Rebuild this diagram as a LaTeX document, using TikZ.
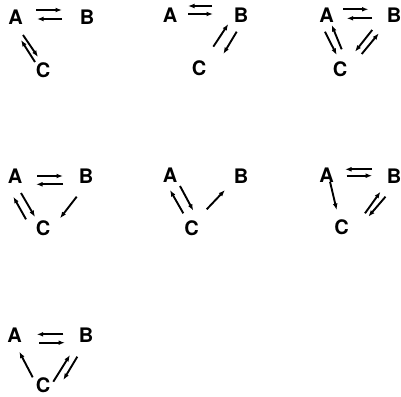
\documentclass[tikz,border=0pt]{standalone}
\usepackage{fontspec}
\setmainfont{TeX Gyre Heros}
\usetikzlibrary{arrows.meta}
\tikzset{
  lbl/.style={inner sep=0pt, font=\fontsize{20}{24}\selectfont\bfseries},
  arr/.style={line width=1.9pt, -{Latex[length=6.5pt,width=4.8pt]}},
}
\newcommand\cn[4]{\draw[arr] ([shift={#2}]#1.center) -- ([shift={#4}]#3.center);}
\begin{document}
\begin{tikzpicture}[x=1pt,y=-1pt]
\useasboundingbox (0,0) rectangle (401,396);
% Panel 1
\node[lbl] (A1) at (15.5,17.5) {A};
\node[lbl] (B1) at (87,17.5) {B};
\node[lbl] (C1) at (43,70) {C};
\cn{A1}{(20.5,-7.5)}{B1}{(-25,-7.5)}
\cn{B1}{(-25,1.5)}{A1}{(21.5,1.5)}
\cn{A1}{(7.5,17.5)}{C1}{(-5,-13)}
\cn{C1}{(-8,-8)}{A1}{(5.5,22.5)}
% Panel 2
\node[lbl] (A2) at (170,15.5) {A};
\node[lbl] (B2) at (241,15.5) {B};
\node[lbl] (C2) at (199,68) {C};
\cn{B2}{(-29,-9.5)}{A2}{(18,-9.5)}
\cn{A2}{(18,-1.5)}{B2}{(-28,-1.5)}
\cn{C2}{(14.3,-21.3)}{B2}{(-12.7,8.5)}
\cn{B2}{(-4.3,16.2)}{C2}{(24.3,-14)}
% Panel 3
\node[lbl] (A3) at (326.7,15) {A};
\node[lbl] (B3) at (394,15) {B};
\node[lbl] (C3) at (340,69) {C};
\cn{A3}{(16.3,-5.7)}{B3}{(-25.5,-5.7)}
\cn{B3}{(-21.8,3.3)}{A3}{(20,3.3)}
\cn{A3}{(-1.7,16.7)}{C3}{(-3.3,-14)}
\cn{C3}{(1.7,-19.7)}{A3}{(5,10)}
\cn{B3}{(-21.8,15)}{C3}{(15,-17.3)}
\cn{C3}{(21.7,-15)}{B3}{(-15.2,18.3)}
% Panel 4
\node[lbl] (A4) at (15,176.5) {A};
\node[lbl] (B4) at (86,176.5) {B};
\node[lbl] (C4) at (43,228) {C};
\cn{A4}{(22,-0.5)}{B4}{(-23,-0.5)}
\cn{B4}{(-23,7.8)}{A4}{(21,7.8)}
\cn{C4}{(-17,-8.7)}{A4}{(-1.7,20.2)}
\cn{A4}{(6,16.5)}{C4}{(-8,-11)}
\cn{B4}{(-9.3,20.2)}{C4}{(17,-9.7)}
% Panel 5
\node[lbl] (A5) at (170,175.5) {A};
\node[lbl] (B5) at (241,176.5) {B};
\node[lbl] (C5) at (191.5,228) {C};
\cn{C5}{(-8.2,-14.7)}{A5}{(0,14.5)}
\cn{A5}{(10,10.5)}{C5}{(1.8,-17.3)}
\cn{C5}{(15.2,-18.7)}{B5}{(-16,13.5)}
% Panel 6
\node[lbl] (A6) at (326.7,175.5) {A};
\node[lbl] (B6) at (394,176.5) {B};
\node[lbl] (C6) at (341.5,227.5) {C};
\cn{B6}{(-21.8,-7.2)}{A6}{(18.3,-6.2)}
\cn{A6}{(20,0.2)}{B6}{(-21.8,-0.8)}
\cn{A6}{(3.3,6.2)}{C6}{(-4.8,-17.5)}
\cn{C6}{(23.5,-14.2)}{B6}{(-13.5,15.2)}
\cn{B6}{(-8.5,20.2)}{C6}{(26.8,-10.8)}
% Panel 7
\node[lbl] (A7) at (14.5,335.5) {A};
\node[lbl] (B7) at (86,335.5) {B};
\node[lbl] (C7) at (43,385.5) {C};
\cn{B7}{(-22.7,-1.2)}{A7}{(22.2,-1.2)}
\cn{A7}{(24.8,7.2)}{B7}{(-21,7.2)}
\cn{C7}{(-10.3,-8.2)}{A7}{(4.8,16.2)}
\cn{C7}{(10.3,-3.8)}{B7}{(-16,19.5)}
\cn{B7}{(-8.7,21.2)}{C7}{(20.3,-5.5)}
\end{tikzpicture}
\end{document}
